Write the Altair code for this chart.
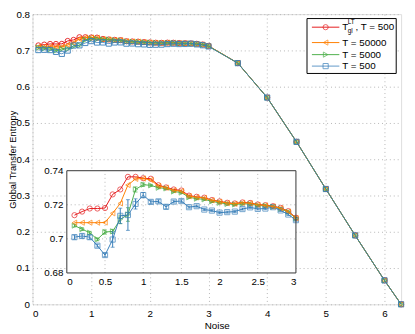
import altair as alt
import pandas as pd

FONT = "Liberation Sans"

series_names = ["T_gl^LT, T = 500", "T = 50000", "T = 5000", "T = 500"]
colors = ["#e41a1c", "#ff7f00", "#4daf4a", "#377eb8"]
shapes = ["circle", "triangle-left", "triangle-right", "square"]

noise_fine = [0.1, 0.2, 0.3, 0.4, 0.5, 0.6, 0.7, 0.8, 0.9, 1.0,
              1.1, 1.2, 1.3, 1.4, 1.5, 1.6, 1.7, 1.8, 1.9, 2.0,
              2.1, 2.2, 2.3, 2.4, 2.5, 2.6, 2.7, 2.8, 2.9, 3.0]
noise_tail = [3.5, 4.0, 4.5, 5.0, 5.5, 6.0, 6.2832]

red_vals = [0.7139, 0.7160, 0.7178, 0.7178, 0.7181, 0.7261, 0.7290, 0.7364, 0.7364, 0.7356,
            0.7353, 0.7315, 0.7302, 0.7290, 0.7284, 0.7254, 0.7247, 0.7242, 0.7228, 0.7220,
            0.7212, 0.7208, 0.7214, 0.7211, 0.7202, 0.7198, 0.7192, 0.7182, 0.7163, 0.7124]
orange_vals = [0.7095, 0.7095, 0.7095, 0.7095, 0.7096, 0.7150, 0.7208, 0.7316, 0.7352, 0.7354,
               0.7346, 0.7310, 0.7300, 0.7285, 0.7280, 0.7250, 0.7244, 0.7240, 0.7226, 0.7218,
               0.7210, 0.7206, 0.7212, 0.7209, 0.7200, 0.7196, 0.7190, 0.7180, 0.7160, 0.7122]
green_vals = [0.7078, 0.7057, 0.7036, 0.6997, 0.7040, 0.7044, 0.7114, 0.7143, 0.7290, 0.7318,
              0.7314, 0.7300, 0.7296, 0.7278, 0.7272, 0.7244, 0.7236, 0.7232, 0.7220, 0.7212,
              0.7205, 0.7202, 0.7206, 0.7204, 0.7196, 0.7194, 0.7188, 0.7176, 0.7158, 0.7120]
blue_vals = [0.7010, 0.7017, 0.7010, 0.6960, 0.6905, 0.6996, 0.7135, 0.7140, 0.7205, 0.7257,
             0.7217, 0.7220, 0.7188, 0.7219, 0.7222, 0.7186, 0.7192, 0.7172, 0.7166, 0.7154,
             0.7157, 0.7160, 0.7175, 0.7185, 0.7176, 0.7178, 0.7186, 0.7167, 0.7143, 0.7110]

tail_vals = [0.665, 0.570, 0.448, 0.318, 0.190, 0.066, 0.0]

green_err = [0.0008, 0.0008, 0.0008, 0.0008, 0.0012, 0.0012, 0.0025, 0.0040, 0.0015, 0.0010,
             0.0006, 0.0006, 0.0006, 0.0006, 0.0006, 0.0006, 0.0006, 0.0006, 0.0006, 0.0006,
             0.0006, 0.0006, 0.0006, 0.0006, 0.0006, 0.0006, 0.0006, 0.0006, 0.0006, 0.0006]
blue_err = [0.0012, 0.0012, 0.0012, 0.0008, 0.0010, 0.0045, 0.0045, 0.0090, 0.0030, 0.0015,
            0.0010, 0.0010, 0.0012, 0.0008, 0.0008, 0.0006, 0.0006, 0.0006, 0.0006, 0.0006,
            0.0006, 0.0006, 0.0006, 0.0006, 0.0006, 0.0006, 0.0006, 0.0006, 0.0006, 0.0006]
zero_err = [0.0] * 30

all_vals = [red_vals, orange_vals, green_vals, blue_vals]
all_errs = [zero_err, zero_err, green_err, blue_err]

main_x_ticks = [0, 1, 2, 3, 4, 5, 6]
main_y_ticks = [0, 0.1, 0.2, 0.3, 0.4, 0.5, 0.6, 0.7, 0.8]
inset_x_ticks = [0, 0.5, 1, 1.5, 2, 2.5, 3]
inset_y_ticks = [0.68, 0.7, 0.72, 0.74]
inset_x_grid = [0.5, 1, 1.5, 2, 2.5]
inset_y_grid = [0.7, 0.72]

W, H = 376, 296
GRID = "#b5b5b5"

# ---------------- main plot ----------------
main_x_scale = alt.Scale(domain=[0, 6.2832], nice=False, zero=False)
main_y_scale = alt.Scale(domain=[0, 0.8], nice=False, zero=False)

main_x_axis = alt.Axis(values=main_x_ticks, title="Noise", grid=True, gridDash=[1, 3],
                       gridColor=GRID, domain=False, ticks=False, labelPadding=4,
                       titlePadding=3, format="d", labelFont=FONT, titleFont=FONT,
                       labelFontSize=10, titleFontSize=10, titleFontWeight="normal",
                       labelColor="#000", titleColor="#000")
main_y_axis = alt.Axis(values=main_y_ticks, title="Global Transfer Entropy", grid=True,
                       gridDash=[1, 3], gridColor=GRID, domain=False, ticks=False,
                       labelPadding=3, titleX=-15.5, titleBaseline="bottom",
                       labelExpr="datum.value == 0 ? '0' : format(datum.value, '.1f')",
                       labelFont=FONT, titleFont=FONT, labelFontSize=10, titleFontSize=9.5,
                       titleFontWeight="normal", labelColor="#000", titleColor="#000")

main_layers = []
for i, name in enumerate(series_names):
    df = pd.DataFrame({"noise": noise_fine + noise_tail, "val": all_vals[i] + tail_vals})
    x = alt.X("noise:Q", scale=main_x_scale, axis=main_x_axis)
    y = alt.Y("val:Q", scale=main_y_scale, axis=main_y_axis)
    op = 0.8 if i == 3 else 1.0
    line = alt.Chart(df).mark_line(color=colors[i], strokeWidth=1, opacity=op).encode(x=x, y=y)
    pts = alt.Chart(df).mark_point(shape=shapes[i], filled=False, size=28, strokeWidth=1,
                                   color=colors[i], opacity=0.9).encode(x=x, y=y)
    main_layers += [line, pts]

# ---------------- legend (decoration) ----------------
one = pd.DataFrame({"a": [0]})
leg = []
leg.append(alt.Chart(one).mark_rect(fill="white", stroke="#000", strokeWidth=1).encode(
    x=alt.value(280), x2=alt.value(371), y=alt.value(4.5), y2=alt.value(60.5)))
leg_y = [13.3, 29, 41.3, 53]
for i in range(4):
    leg.append(alt.Chart(one).mark_rule(color=colors[i], strokeWidth=1,
                                        opacity=0.8 if i == 3 else 1.0).encode(
        x=alt.value(285), x2=alt.value(313), y=alt.value(leg_y[i])))
    leg.append(alt.Chart(one).mark_point(shape=shapes[i], filled=False, size=28, strokeWidth=1,
                                         color=colors[i]).encode(
        x=alt.value(299), y=alt.value(leg_y[i])))
leg_labels = ["", "T = 50000", "T = 5000", "T = 500"]
for i in range(1, 4):
    leg.append(alt.Chart(one).mark_text(text=leg_labels[i], font=FONT, fontSize=10, align="left",
                                        baseline="middle", color="#000").encode(
        x=alt.value(316), y=alt.value(leg_y[i])))
leg.append(alt.Chart(one).mark_text(text="T", font=FONT, fontSize=10, align="left",
                                    baseline="middle", color="#000").encode(
    x=alt.value(316), y=alt.value(13)))
leg.append(alt.Chart(one).mark_text(text="LT", font=FONT, fontSize=6.5, align="left",
                                    baseline="middle", color="#000").encode(
    x=alt.value(321.5), y=alt.value(8.5)))
leg.append(alt.Chart(one).mark_text(text="gl", font=FONT, fontSize=6.5, align="left",
                                    baseline="middle", color="#000").encode(
    x=alt.value(321.5), y=alt.value(17.5)))
leg.append(alt.Chart(one).mark_text(text=", T = 500", font=FONT, fontSize=10, align="left",
                                    baseline="middle", color="#000").encode(
    x=alt.value(329.5), y=alt.value(13)))

main = alt.layer(*main_layers, *leg)

# ---------------- inset ----------------
in_x_scale = alt.Scale(domain=[0, 3], range=[35, 268.7], nice=False, zero=False)
in_y_scale = alt.Scale(domain=[0.68, 0.74], range=[264, 159.7], nice=False, zero=False)
ix_ax = alt.Axis(orient="bottom", offset=-32, values=inset_x_ticks, format="~g", grid=False,
                 domain=False, ticks=False, title=None, labelPadding=4, labelFont=FONT,
                 labelFontSize=10, labelColor="#000")
iy_ax = alt.Axis(orient="left", offset=-35, values=inset_y_ticks, format="~g", grid=False,
                 domain=False, ticks=False, title=None, labelPadding=4, labelFont=FONT,
                 labelFontSize=10, labelColor="#000")

box = pd.DataFrame({"x0": [0], "x1": [3], "y0": [0.68], "y1": [0.74]})
inset_layers = []
inset_layers.append(alt.Chart(box).mark_rect(fill="white", stroke=None).encode(
    x=alt.X("x0:Q", scale=in_x_scale, axis=ix_ax), x2="x1:Q",
    y=alt.Y("y0:Q", scale=in_y_scale, axis=iy_ax), y2="y1:Q"))
gx = pd.DataFrame({"gx": inset_x_grid, "g0": [0.68] * 5, "g1": [0.74] * 5})
inset_layers.append(alt.Chart(gx).mark_rule(color=GRID, strokeDash=[1, 3], strokeWidth=1).encode(
    x=alt.X("gx:Q", scale=in_x_scale, axis=ix_ax),
    y=alt.Y("g0:Q", scale=in_y_scale, axis=iy_ax), y2="g1:Q"))
gy = pd.DataFrame({"gy": inset_y_grid, "h0": [0, 0], "h1": [3, 3]})
inset_layers.append(alt.Chart(gy).mark_rule(color=GRID, strokeDash=[1, 3], strokeWidth=1).encode(
    y=alt.Y("gy:Q", scale=in_y_scale, axis=iy_ax),
    x=alt.X("h0:Q", scale=in_x_scale, axis=ix_ax), x2="h1:Q"))

order = [0, 2, 3, 1]
for i in order:
    df = pd.DataFrame({"noise": noise_fine, "val": all_vals[i],
                       "lo": [v - e for v, e in zip(all_vals[i], all_errs[i])],
                       "hi": [v + e for v, e in zip(all_vals[i], all_errs[i])]})
    x = alt.X("noise:Q", scale=in_x_scale, axis=ix_ax)
    y = alt.Y("val:Q", scale=in_y_scale, axis=iy_ax)
    if i in (2, 3):
        inset_layers.append(alt.Chart(df).mark_rule(color=colors[i], strokeWidth=1).encode(
            x=x, y=alt.Y("lo:Q", scale=in_y_scale, axis=iy_ax), y2="hi:Q"))
        for fld in ("lo", "hi"):
            inset_layers.append(alt.Chart(df).mark_tick(color=colors[i], orient="horizontal",
                                                        size=4, thickness=1).encode(
                x=x, y=alt.Y(f"{fld}:Q", scale=in_y_scale, axis=iy_ax)))
    inset_layers.append(alt.Chart(df).mark_line(color=colors[i], strokeWidth=1).encode(x=x, y=y))
    inset_layers.append(alt.Chart(df).mark_point(shape=shapes[i], filled=False, size=28,
                                                 strokeWidth=1, color=colors[i]).encode(x=x, y=y))

inset_layers.append(alt.Chart(box).mark_rect(fill=None, stroke="#333", strokeWidth=1).encode(
    x=alt.X("x0:Q", scale=in_x_scale, axis=ix_ax), x2="x1:Q",
    y=alt.Y("y0:Q", scale=in_y_scale, axis=iy_ax), y2="y1:Q"))

inset = alt.layer(*inset_layers)

chart = alt.layer(main, inset).resolve_scale(x="independent", y="independent").properties(
    width=W, height=H,
    autosize=alt.AutoSizeParams(type="none"),
    padding={"left": 25, "top": 3, "right": 6, "bottom": 27},
).configure_view(stroke="#000", strokeWidth=1).configure(background="white")

chart.save("out.html", embed_options={"renderer": "svg", "actions": False})
